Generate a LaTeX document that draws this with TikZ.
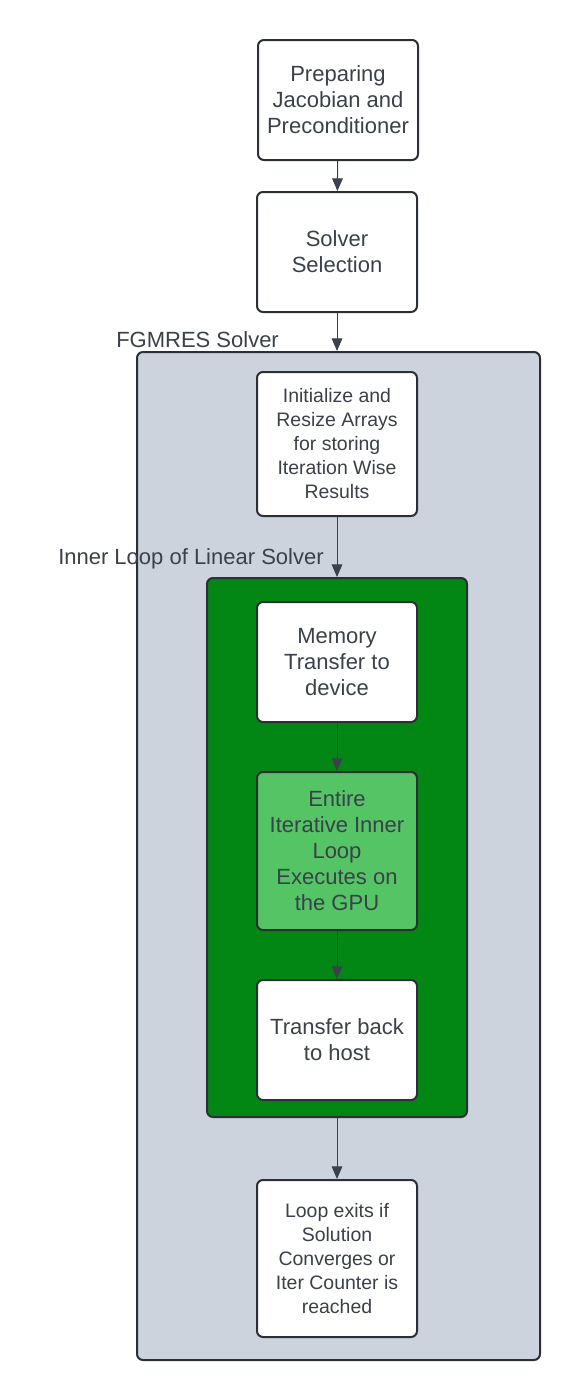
\documentclass[tikz,border=0pt]{standalone}
\usepackage{fontspec}
\setmainfont{Liberation Sans}
\definecolor{FlowGray}{RGB}{205,211,220}
\definecolor{FlowGreen}{RGB}{2,135,20}
\definecolor{GpuGreen}{RGB}{84,196,100}
\definecolor{EdgeDark}{RGB}{43,47,54}
\definecolor{TextDark}{RGB}{58,65,74}
\usetikzlibrary{
    arrows.meta,
    positioning,
}

\tikzset{
    stepbox/.style={draw=EdgeDark, line width=1.5pt, fill=white, rounded corners=4.5pt,
        minimum width=120pt, minimum height=90pt, inner sep=0pt, align=center,
        text=TextDark, font=\fontsize{16.5}{19.5}\selectfont},
    smallbox/.style={stepbox, font=\fontsize{14.6}{18}\selectfont},
    groupbox/.style={draw=EdgeDark, line width=1.5pt, rounded corners=4.5pt, inner sep=0pt},
    grouplabel/.style={anchor=west, inner sep=0pt, text=TextDark, font=\fontsize{16.5}{19.5}\selectfont},
    flow/.style={draw=TextDark, line width=0.75pt, -{Triangle[length=9.5pt,width=8pt]}},
}

\begin{document}
\begin{tikzpicture}[x=0.75pt,y=-0.75pt]
        \useasboundingbox (0,0) rectangle (580,1400);
        \node[groupbox, fill=FlowGray, minimum width=302.25pt, minimum height=756pt] (fgmres) at (338.5,856) {};
        \node[grouplabel] (fgmreslabel) at (116,339.5) {FGMRES Solver};
        \node[stepbox] (prep) at (338,100) {Preparing\\Jacobian and\\Preconditioner};
        \node[stepbox] (select) at (337,252) {Solver\\Selection};
        \node[smallbox, minimum height=108pt] (init) at (337,444) {Initialize and\\Resize Arrays\\for storing\\Iteration Wise\\Results};
        \node[groupbox, fill=FlowGreen, minimum width=195pt, minimum height=404.25pt] (inner) at (337,847.5) {};
        \node[grouplabel] (innerlabel) at (58,559) {Inner Loop of Linear Solver};
        \node[stepbox] (memory) at (337,662) {Memory\\Transfer to\\device};
        \node[stepbox, fill=GpuGreen, minimum height=118.5pt] (gpu) at (337,851) {Entire\\Iterative Inner\\Loop\\Executes on\\the GPU};
        \node[stepbox] (back) at (337,1040) {Transfer back\\to host};
        \node[smallbox, minimum height=117.75pt] (exit) at (337,1258.5) {Loop exits if\\Solution\\Converges or\\Iter Counter is\\reached};
        \draw[flow] (prep) -- (select);
        \draw[flow] (select.south) -- (select.south |- fgmres.north);
        \draw[flow] (init) -- (inner);
        \draw[flow] (memory) -- (gpu);
        \draw[flow] (gpu) -- (back);
        \draw[flow] (inner) -- (exit);
    \end{tikzpicture}
\end{document}
